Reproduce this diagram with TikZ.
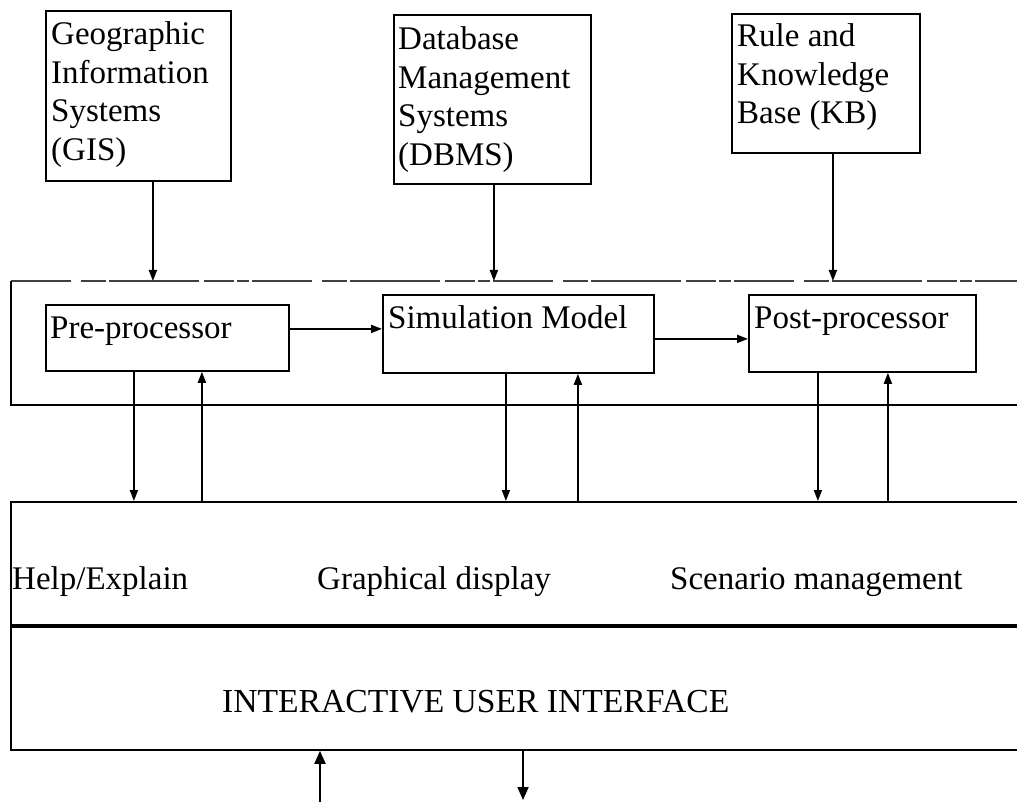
\documentclass[tikz,border=0pt]{standalone}
\usepackage{fontspec}
\setmainfont{Liberation Serif}
\usetikzlibrary{arrows.meta}
\begin{document}
\begin{tikzpicture}[x=1pt,y=-1pt,
  font=\fontsize{33}{38.5}\selectfont,
  box/.style={draw, line width=1.8pt, inner sep=0pt, anchor=north west},
  txt/.style={inner sep=0pt, anchor=base west},
  link/.style={line width=1.8pt, -{Triangle[length=11pt,width=8pt]}},
  ioarrow/.style={line width=1.8pt, -{Triangle[length=13pt,width=11pt]}},
  rim/.style={line width=1.6pt},
  topline/.style={draw=black!75, line width=1.3pt,
    dash pattern=on 60pt off 10pt on 25pt off 3pt on 90pt off 5pt on 30pt off 3pt on 12pt off 3pt},
  divider/.style={line width=4pt}
  ]
\useasboundingbox (0,0) rectangle (1017,802);
\clip (0,0) rectangle (1017,802);

% data sources
\node[box, minimum width=185pt, minimum height=170pt] (gis) at (45,10) {};
\node[txt] (gis-t) at ([shift={(6,35)}]gis.north west)
  {\vtop{\hbox{Geographic}\hbox{Information}\hbox{Systems}\hbox{(GIS)}}};
\node[box, minimum width=197pt, minimum height=169pt] (dbms) at (393,14) {};
\node[txt] (dbms-t) at ([shift={(5,36)}]dbms.north west)
  {\vtop{\hbox{Database}\hbox{Management}\hbox{Systems}\hbox{(DBMS)}}};
\node[box, minimum width=188pt, minimum height=139pt] (kb) at (731,13) {};
\node[txt] (kb-t) at ([shift={(6,34)}]kb.north west)
  {\vtop{\hbox{Rule and}\hbox{Knowledge}\hbox{Base (KB)}}};

% processing frame
\coordinate (fTL) at (11,281);
\coordinate (fTR) at (1030,281);
\coordinate (fBL) at (11,405);
\coordinate (fBR) at (1030,405);
\draw[topline] (fTL) -- (fTR);
\draw[rim] (fTL) -- (fBL) -- (fBR);

% processing stages
\node[box, minimum width=243pt, minimum height=66pt] (pre) at (45,304) {};
\node[txt] (pre-t) at ([shift={(5,34)}]pre.north west) {Pre-processor};
\node[box, minimum width=271pt, minimum height=78pt] (sim) at (382,294) {};
\node[txt] (sim-t) at ([shift={(6,34)}]sim.north west) {Simulation Model};
\node[box, minimum width=227pt, minimum height=77pt] (post) at (748,294) {};
\node[txt] (post-t) at ([shift={(6,34)}]post.north west) {Post-processor};

% user interface
\node[box, minimum width=1030pt, minimum height=248pt] (ui) at (10,501) {};
\draw[divider] (ui.west) -- (ui.east);
\node[txt] (help) at (12,589) {Help/Explain};
\node[txt] (graph) at (317,589) {Graphical display};
\node[txt] (scen) at (670,589) {Scenario management};
\node[txt, font=\fontsize{33.6}{38.5}\selectfont] (iui) at (222,712) {INTERACTIVE USER INTERFACE};

% inputs to the processing frame
\draw[link] ([xshift=14.5pt]gis.south) -- ([xshift=14.5pt]gis.south |- fTL);
\draw[link] ([xshift=1.5pt]dbms.south) -- ([xshift=1.5pt]dbms.south |- fTL);
\draw[link] ([xshift=7pt]kb.south) -- ([xshift=7pt]kb.south |- fTL);

% flow between stages
\draw[link] ([yshift=9pt]pre.east) -- ([yshift=9pt]pre.east -| sim.west);
\draw[link] ([yshift=-5pt]sim.east) -- ([yshift=-5pt]sim.east -| post.west);

% stages <-> interface
\draw[link] ([xshift=-33.5pt]pre.south) -- ([xshift=-33.5pt]pre.south |- ui.north);
\draw[link] ([xshift=34.5pt]pre.south |- ui.north) -- ([xshift=34.5pt]pre.south);
\draw[link] ([xshift=-12.5pt]sim.south) -- ([xshift=-12.5pt]sim.south |- ui.north);
\draw[link] ([xshift=59.5pt]sim.south |- ui.north) -- ([xshift=59.5pt]sim.south);
\draw[link] ([xshift=-44.5pt]post.south) -- ([xshift=-44.5pt]post.south |- ui.north);
\draw[link] ([xshift=25.5pt]post.south |- ui.north) -- ([xshift=25.5pt]post.south);

% user in / out
\coordinate (userin) at (320,802);
\coordinate (userout) at (523,800);
\draw[ioarrow] (userin) -- (userin |- ui.south);
\draw[ioarrow] (userout |- ui.south) -- (userout);
\end{tikzpicture}
\end{document}
